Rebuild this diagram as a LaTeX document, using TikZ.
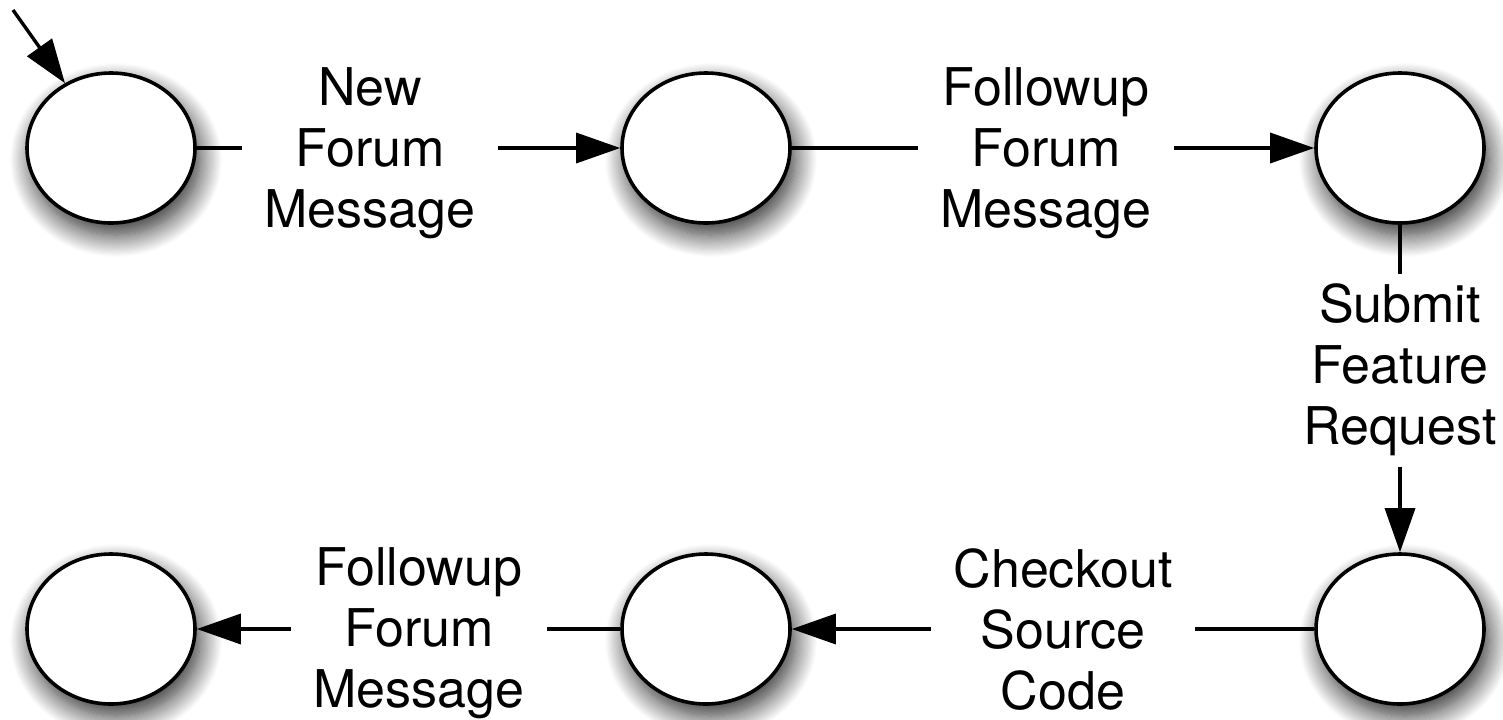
\documentclass[tikz,border=0pt]{standalone}
\usepackage{fontspec}
\setmainfont{TeX Gyre Heros}
\usetikzlibrary{shapes.geometric,arrows.meta,shadows.blur}

\tikzset{
  state/.style={ellipse, draw=black, line width=1.8pt, fill=white,
    minimum width=84pt, minimum height=75pt, inner sep=0pt,
    blur shadow={shadow xshift=2.5pt, shadow yshift=-6pt,
      shadow blur radius=11pt, shadow blur steps=20, shadow opacity=85}},
  trans/.style={align=center, inner xsep=11pt, inner ysep=5pt,
    font=\fontsize{26pt}{30.5pt}\selectfont},
  wire/.style={line width=1.7pt},
  arr/.style={wire, -{Triangle[length=22pt, width=15pt]}}
}

\begin{document}
\begin{tikzpicture}[x=0.5pt, y=-0.5pt]
  \useasboundingbox (0,0) rectangle (1503,719);

  % states
  \node[state] (s1) at (111,148) {};
  \node[state] (s2) at (706,148) {};
  \node[state] (s3) at (1400,148) {};
  \node[state] (s6) at (1400,629) {};
  \node[state] (s5) at (706,629) {};
  \node[state] (s4) at (111,629) {};

  % transition labels
  \node[trans] (t1) at (370,153) {New\\Forum\\Message};
  \node[trans] (t2) at (1046,153) {Followup\\Forum\\Message};
  \node[trans] (t3) at (1400,370) {Submit\\Feature\\Request};
  \node[trans] (t4) at (1063,630) {Checkout\\Source\\Code};
  \node[trans] (t5) at (419,633) {Followup\\Forum\\Message};

  % initial marker
  \coordinate (init) at (13,10);
  \draw[arr] (init) -- (s1);

  % transitions
  \draw[wire] (s1.east) -- (t1.west |- s1.east);
  \draw[arr]  (t1.east |- s2.west) -- (s2.west);
  \draw[wire] (s2.east) -- (t2.west |- s2.east);
  \draw[arr]  (t2.east |- s3.west) -- (s3.west);
  \draw[wire] (s3.south) -- (s3.south |- t3.north);
  \draw[arr]  (s6.north |- t3.south) -- (s6.north);
  \draw[wire] (s6.west) -- (t4.east |- s6.west);
  \draw[arr]  (t4.west |- s5.east) -- (s5.east);
  \draw[wire] (s5.west) -- (t5.east |- s5.west);
  \draw[arr]  (t5.west |- s4.east) -- (s4.east);
\end{tikzpicture}
\end{document}
